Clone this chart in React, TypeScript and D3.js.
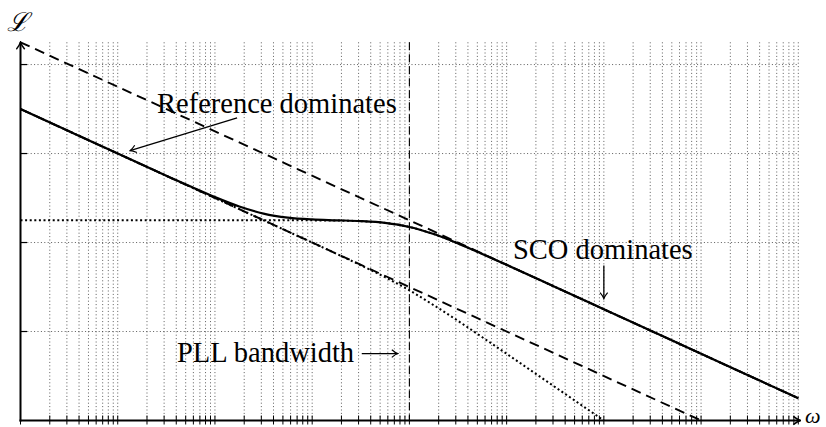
import React from 'react';
import * as d3 from 'd3';

// sampled frequencies (rad/s), log spaced
const omega = [1, 3.16, 10, 31.6, 56.2, 100, 178, 316, 562, 1000, 1780, 3160, 5620, 1e4, 1.78e4, 3.16e4, 5.62e4, 1e5, 3.16e5, 1e6, 1e7, 1e8];
// total output phase noise (dB)
const totalNoise = [140, 130, 120, 110.04, 105.14, 100.41, 96.19, 93.01, 91.19, 90.37, 90.0, 89.63, 88.82, 87.0, 83.81, 79.59, 74.87, 69.96, 60.0, 50.0, 30.0, 10.0];
// SCO noise after the PLL high-pass (dB)
const scoFiltered = [90, 90, 90, 90, 90, 90, 90, 89.99, 89.99, 89.96, 89.87, 89.59, 88.81, 86.99, 83.81, 79.59, 74.87, 69.96, 60.0, 50.0, 30.0, 10.0];
// reference noise after the PLL low-pass (dB), first 20 samples
const refFiltered = [140, 130, 120, 110, 105, 100, 95, 90, 84.99, 79.98, 74.93, 69.79, 64.4, 58.49, 51.83, 44.79, 37.43, 29.98, 15.0, 0];
// free running asymptotes
const scoOmega = [1, 1e8];
const scoLevel = [170, 10];
const refOmega = [1, 1e7];
const refLevel = [140, 0];
const pllBandwidth = 1e4;
const levelTicks = [40, 80, 120, 160];

const W = 826;
const H = 427;
const labelFont = '"Liberation Serif", serif';

const App = () => {
  const x = d3.scaleLog().domain([1, 1e8]).range([20.5, 798.3]);
  const y = d3.scaleLinear().domain([0, 170]).range([420.5, 42.3]);
  const xTicks = x.ticks();

  const line = d3
    .line<[number, number]>()
    .x(d => x(d[0]))
    .y(d => y(d[1]))
    .curve(d3.curveMonotoneX);

  const zip = (a: number[], b: number[]) => b.map((v, i) => [a[i], v] as [number, number]);

  const top = y(170);
  const bottom = y(0);

  return (
    <svg width={W} height={H} style={{ position: 'absolute', left: 0, top: 0, background: '#fff' }}>
      <defs>
        <marker id="tip" viewBox="-6 -5 8 10" refX="1" refY="0" markerWidth="8" markerHeight="10" markerUnits="userSpaceOnUse" orient="auto">
          <path d="M-5,-3.8 Q-1.5,-0.8 1,0 Q-1.5,0.8 -5,3.8" fill="none" stroke="#000" strokeWidth="1.2" />
        </marker>
        <marker id="axisTip" viewBox="-8 -5 10 10" refX="1" refY="0" markerWidth="10" markerHeight="10" markerUnits="userSpaceOnUse" orient="auto">
          <path d="M-6,-4.2 Q-2,-1 1.2,0 Q-2,1 -6,4.2" fill="none" stroke="#000" strokeWidth="1.5" />
        </marker>
      </defs>

      {/* grid */}
      <g stroke="#333" strokeWidth={0.8} strokeDasharray="1 2.4">
        {xTicks.map((t, i) => (
          <line key={'gx' + i} x1={x(t)} x2={x(t)} y1={top} y2={bottom} />
        ))}
        {levelTicks.map((t, i) => (
          <line key={'gy' + i} x1={x(1)} x2={x(1e8)} y1={y(t)} y2={y(t)} />
        ))}
      </g>

      {/* PLL bandwidth marker */}
      <line x1={x(pllBandwidth)} x2={x(pllBandwidth)} y1={top} y2={bottom} stroke="#000" strokeWidth={1.1} strokeDasharray="8 4" />

      {/* curves */}
      <path d={line(zip(scoOmega, scoLevel)) || ''} fill="none" stroke="#000" strokeWidth={1.9} strokeDasharray="10 6" />
      <path d={line(zip(refOmega, refLevel)) || ''} fill="none" stroke="#000" strokeWidth={1.9} strokeDasharray="10 6" />
      <path d={line(zip(omega, scoFiltered)) || ''} fill="none" stroke="#000" strokeWidth={2} strokeDasharray="2 2.6" />
      <path d={line(zip(omega, refFiltered)) || ''} fill="none" stroke="#000" strokeWidth={2} strokeDasharray="2 2.6" />
      <path d={line(zip(omega, totalNoise)) || ''} fill="none" stroke="#000" strokeWidth={2.2} />

      {/* axes */}
      <g stroke="#000">
        {xTicks.map((t, i) => (
          <line key={'tx' + i} x1={x(t)} x2={x(t)} y1={bottom - 5} y2={bottom + 4} strokeWidth={1} />
        ))}
        {levelTicks.map((t, i) => (
          <line key={'ty' + i} x1={x(1)} x2={x(1) + 6.5} y1={y(t)} y2={y(t)} strokeWidth={1.2} />
        ))}
        <line x1={x(1)} x2={x(1)} y1={bottom + 1} y2={top} strokeWidth={2} markerEnd="url(#axisTip)" />
        <line x1={x(1) - 1} x2={x(1e8) + 2} y1={bottom} y2={bottom} strokeWidth={2} markerEnd="url(#axisTip)" />
      </g>
      <text x={18} y={31} fontFamily='"DejaVu Serif", serif' fontStyle="italic" fontSize={26} textAnchor="middle">ℒ</text>
      <text x={805} y={423} fontFamily={labelFont} fontStyle="italic" fontSize={22}>ω</text>

      {/* annotations */}
      <g fontFamily={labelFont} fontSize={28.5} fill="#000">
        <text x={157} y={113}>Reference dominates</text>
        <text x={513} y={259}>SCO dominates</text>
        <text x={177} y={362}>PLL bandwidth</text>
      </g>
      <g stroke="#000" strokeWidth={1.3} fill="none">
        <line x1={x(169)} y1={y(136)} x2={x(13.4)} y2={y(121.3)} markerEnd="url(#tip)" />
        <line x1={x(1e6)} y1={y(69.7)} x2={x(1e6)} y2={y(54.8)} markerEnd="url(#tip)" />
        <line x1={x(3236)} y1={y(30.1)} x2={x(7600)} y2={y(30.1)} markerEnd="url(#tip)" />
      </g>
    </svg>
  );
};

export default App;
